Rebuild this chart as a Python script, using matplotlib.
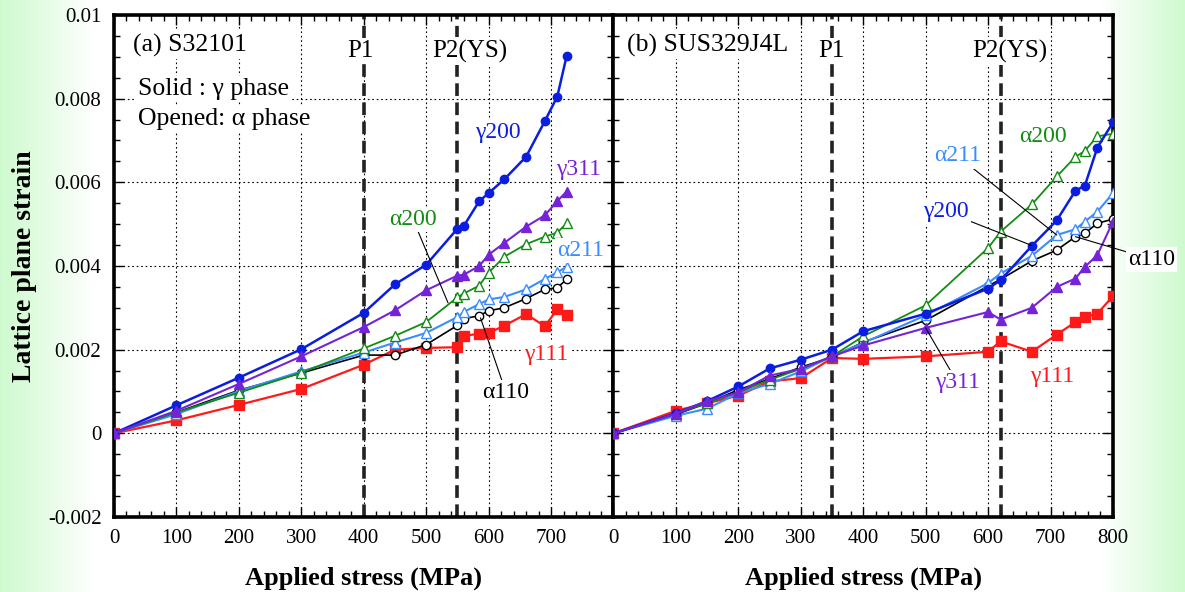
import numpy as np
import matplotlib
matplotlib.use("Agg")
import matplotlib.pyplot as plt
from matplotlib.ticker import MultipleLocator

plt.rcParams["font.family"] = ["Liberation Serif", "DejaVu Serif"]
plt.rcParams["axes.unicode_minus"] = False

# ---- data: (a) S32101 ----
xa = [0, 100, 200, 300, 400, 450, 500, 550, 560, 585, 600, 625, 660, 690, 710, 725]
a_g200 = [0, 0.00067, 0.00133, 0.00201, 0.00288, 0.00356, 0.00403, 0.00489, 0.00495,
          0.00555, 0.00574, 0.00607, 0.00661, 0.00746, 0.00805, 0.00902]
a_g311 = [0, 0.00054, 0.00118, 0.00184, 0.00254, 0.00294, 0.00342, 0.00377, 0.00379,
          0.00400, 0.00427, 0.00455, 0.00494, 0.00521, 0.00555, 0.00578]
a_a200 = [0, 0.00050, 0.00097, 0.00145, 0.00203, 0.00233, 0.00266, 0.00325, 0.00334,
          0.00353, 0.00384, 0.00422, 0.00452, 0.00470, 0.00480, 0.00502]
a_a211 = [0, 0.00046, 0.00101, 0.00148, 0.00193, 0.00217, 0.00240, 0.00278, 0.00290,
          0.00309, 0.00320, 0.00326, 0.00344, 0.00369, 0.00385, 0.00398]
a_a110 = [0, 0.00050, 0.00103, 0.00144, 0.00187, 0.00187, 0.00212, 0.00258, 0.00274,
          0.00281, 0.00293, 0.00300, 0.00322, 0.00344, 0.00348, 0.00368]
a_g111 = [0, 0.00031, 0.00068, 0.00106, 0.00164, 0.00200, 0.00204, 0.00206, 0.00233,
          0.00238, 0.00240, 0.00257, 0.00285, 0.00256, 0.00296, 0.00284]

# ---- data: (b) SUS329J4L ----
xb = [0, 100, 150, 200, 250, 300, 350, 400, 500, 600, 620, 670, 710, 740, 755, 775, 800]
b_g200 = [0, 0.00048, 0.00077, 0.00112, 0.00155, 0.00176, 0.00200, 0.00244, 0.00286,
          0.00346, 0.00366, 0.00448, 0.00509, 0.00580, 0.00592, 0.00683, 0.00743]
b_a200 = [0, 0.00047, 0.00072, 0.00098, 0.00128, 0.00154, 0.00184, 0.00232, 0.00306,
          0.00443, 0.00482, 0.00547, 0.00614, 0.00661, 0.00675, 0.00710, 0.00716]
b_a211 = [0, 0.00042, 0.00059, 0.00096, 0.00118, 0.00148, 0.00184, 0.00216, 0.00282,
          0.00359, 0.00382, 0.00424, 0.00474, 0.00488, 0.00506, 0.00530, 0.00574]
b_a110 = [0, 0.00045, 0.00072, 0.00104, 0.00130, 0.00158, 0.00182, 0.00218, 0.00270,
          0.00352, 0.00368, 0.00412, 0.00438, 0.00470, 0.00478, 0.00502, 0.00512]
b_g311 = [0, 0.00047, 0.00077, 0.00098, 0.00138, 0.00154, 0.00184, 0.00210, 0.00252,
          0.00290, 0.00272, 0.00300, 0.00350, 0.00370, 0.00398, 0.00426, 0.00506]
b_g111 = [0, 0.00054, 0.00072, 0.00090, 0.00124, 0.00132, 0.00180, 0.00178, 0.00184,
          0.00195, 0.00220, 0.00195, 0.00236, 0.00266, 0.00278, 0.00286, 0.00328]

yticks = [-0.002, 0, 0.002, 0.004, 0.006, 0.008, 0.01]
ytick_labels = ["-0.002", "0", "0.002", "0.004", "0.006", "0.008", "0.01"]
xticks_a = [0, 100, 200, 300, 400, 500, 600, 700]
xticks_b = [0, 100, 200, 300, 400, 500, 600, 700, 800]
p_lines_a = [400, 550]
p_lines_b = [350, 620]

C_G200 = "#0b1ee0"
C_G311 = "#7424d6"
C_A200 = "#138c13"
C_A211 = "#3a8cff"
C_A110 = "black"
C_G111 = "#ff1a1a"

fig = plt.figure(figsize=(11.85, 5.92), dpi=100)

# light green side gradient behind everything
bg = fig.add_axes([0, 0, 1, 1], zorder=-10)
px = np.arange(1185)
w = np.clip(np.maximum(1 - px / 95.0, (px - 1100) / 85.0), 0, 1)
green = np.array([0.81, 0.98, 0.81])
row = (1 - w)[:, None] * 1.0 + w[:, None] * green[None, :]
bg.imshow(np.repeat(row[None, :, :], 2, axis=0), aspect="auto", extent=[0, 1, 0, 1])
bg.axis("off")

ax1 = fig.add_axes([0.0962, 0.1267, 0.4215, 0.848])
ax2 = fig.add_axes([0.5177, 0.1267, 0.4215, 0.848])


def series(ax, x, ys):
    g111, a110, a211, a200, g200, g311 = ys
    ax.plot(x, g111, "-s", color=C_G111, lw=1.6, ms=6.5, zorder=3)
    ax.plot(x, a110, "-o", color=C_A110, lw=1.2, ms=6, mfc="white", mew=1.0, zorder=3)
    ax.plot(x, a211, "-^", color=C_A211, lw=1.5, ms=6.5, mfc="white", mew=1.0, zorder=3)
    ax.plot(x, a200, "-^", color=C_A200, lw=1.3, ms=6.5, mfc="white", mew=1.0, zorder=3)
    ax.plot(x, g200, "-o", color=C_G200, lw=1.8, ms=6, zorder=3)
    ax.plot(x, g311, "-^", color=C_G311, lw=1.5, ms=6.5, zorder=3)


def frame(ax, xticks, pl):
    ax.set_xlim(0, 800)
    ax.set_ylim(-0.002, 0.01)
    ax.set_xticks(xticks)
    ax.set_yticks(yticks)
    ax.xaxis.set_minor_locator(MultipleLocator(20))
    ax.yaxis.set_minor_locator(MultipleLocator(0.0005))
    ax.tick_params(which="both", direction="in", top=True, right=True, labelsize=15,
                   width=1.0)
    ax.tick_params(which="major", length=7)
    ax.tick_params(which="minor", length=4)
    ax.tick_params(axis="x", pad=9)
    ax.tick_params(axis="y", pad=9)
    ax.grid(True, which="major", ls=(0, (1.5, 2.5)), color="black", lw=0.8, zorder=1)
    for s in ax.spines.values():
        s.set_linewidth(2.6)
    for v in pl:
        ax.axvline(v, color="#222222", lw=2.6, ls=(0, (3.5, 1.8)), zorder=2)
    ax.set_xlabel("Applied stress (MPa)", fontsize=19, fontweight="bold", labelpad=13)


series(ax1, xa, [a_g111, a_a110, a_a211, a_a200, a_g200, a_g311])
series(ax2, xb, [b_g111, b_a110, b_a211, b_a200, b_g200, b_g311])
frame(ax1, xticks_a, p_lines_a)
frame(ax2, xticks_b, p_lines_b)
ax1.set_yticklabels(ytick_labels)
ax2.tick_params(labelleft=False)
ax1.set_ylabel("Lattice plane strain", fontsize=20, fontweight="bold", labelpad=8)

wbox = dict(facecolor="white", edgecolor="none", pad=1.5)
lead = dict(arrowstyle="-", color="black", lw=0.8, shrinkA=0, shrinkB=0)
fs = 17    # curve labels
ft = 18.5  # panel texts

# panel (a) annotations
ax1.text(30, 0.00928, "(a) S32101", fontsize=ft, va="center", bbox=wbox, zorder=5)
ax1.text(38, 0.00823, "Solid : \u03b3 phase", fontsize=ft, va="center", bbox=wbox, zorder=5)
ax1.text(38, 0.00751, "Opened: \u03b1 phase", fontsize=ft, va="center", bbox=wbox, zorder=5)
ax1.text(395, 0.00914, "P1", fontsize=18, ha="center", va="center", bbox=wbox, zorder=5)
ax1.text(570, 0.00914, "P2(YS)", fontsize=18, ha="center", va="center", bbox=wbox, zorder=5)
ax1.text(614, 0.0072, "\u03b3200", color=C_G200, fontsize=fs, ha="center", va="center",
         bbox=wbox, zorder=5)
ax1.text(744, 0.00631, "\u03b3311", color=C_G311, fontsize=fs, ha="center", va="center",
         bbox=wbox, zorder=5)
ax1.text(748, 0.00437, "\u03b1211", color=C_A211, fontsize=fs, ha="center", va="center",
         bbox=wbox, zorder=5)
ax1.text(692, 0.00188, "\u03b3111", color=C_G111, fontsize=fs, ha="center", va="center",
         bbox=wbox, zorder=5)
ax1.annotate("\u03b1200", xy=(535, 0.00312), xytext=(479, 0.00511), color=C_A200,
             fontsize=fs, ha="center", va="center", bbox=wbox, arrowprops=lead, zorder=5)
ax1.annotate("\u03b1110", xy=(587, 0.00276), xytext=(628, 0.00097), color=C_A110,
             fontsize=fs, ha="center", va="center", bbox=wbox, arrowprops=lead, zorder=5)

# panel (b) annotations
ax2.text(22, 0.00928, "(b) SUS329J4L", fontsize=ft, va="center", bbox=wbox, zorder=5)
ax2.text(349, 0.00914, "P1", fontsize=18, ha="center", va="center", bbox=wbox, zorder=5)
ax2.text(635, 0.00914, "P2(YS)", fontsize=18, ha="center", va="center", bbox=wbox, zorder=5)
ax2.text(688, 0.0071, "\u03b1200", color=C_A200, fontsize=fs, ha="center", va="center",
         bbox=wbox, zorder=5)
ax2.text(702, 0.00135, "\u03b3111", color=C_G111, fontsize=fs, ha="center", va="center",
         bbox=wbox, zorder=5)
ax2.annotate("\u03b1211", xy=(710, 0.00474), xytext=(551, 0.00663), color=C_A211,
             fontsize=fs, ha="center", va="center", bbox=wbox, arrowprops=lead, zorder=5)
ax2.annotate("\u03b3200", xy=(670, 0.00449), xytext=(532, 0.0053), color=C_G200,
             fontsize=fs, ha="center", va="center", bbox=wbox, arrowprops=lead, zorder=5)
ax2.annotate("\u03b1110", xy=(740, 0.0047), xytext=(862, 0.00416), color=C_A110,
             fontsize=fs, ha="center", va="center", bbox=wbox, arrowprops=lead, zorder=5,
             annotation_clip=False)
ax2.annotate("\u03b3311", xy=(500, 0.00252), xytext=(551, 0.00121), color=C_G311,
             fontsize=fs, ha="center", va="center", bbox=wbox, arrowprops=lead, zorder=5)

fig.savefig("out.png", dpi=100)
